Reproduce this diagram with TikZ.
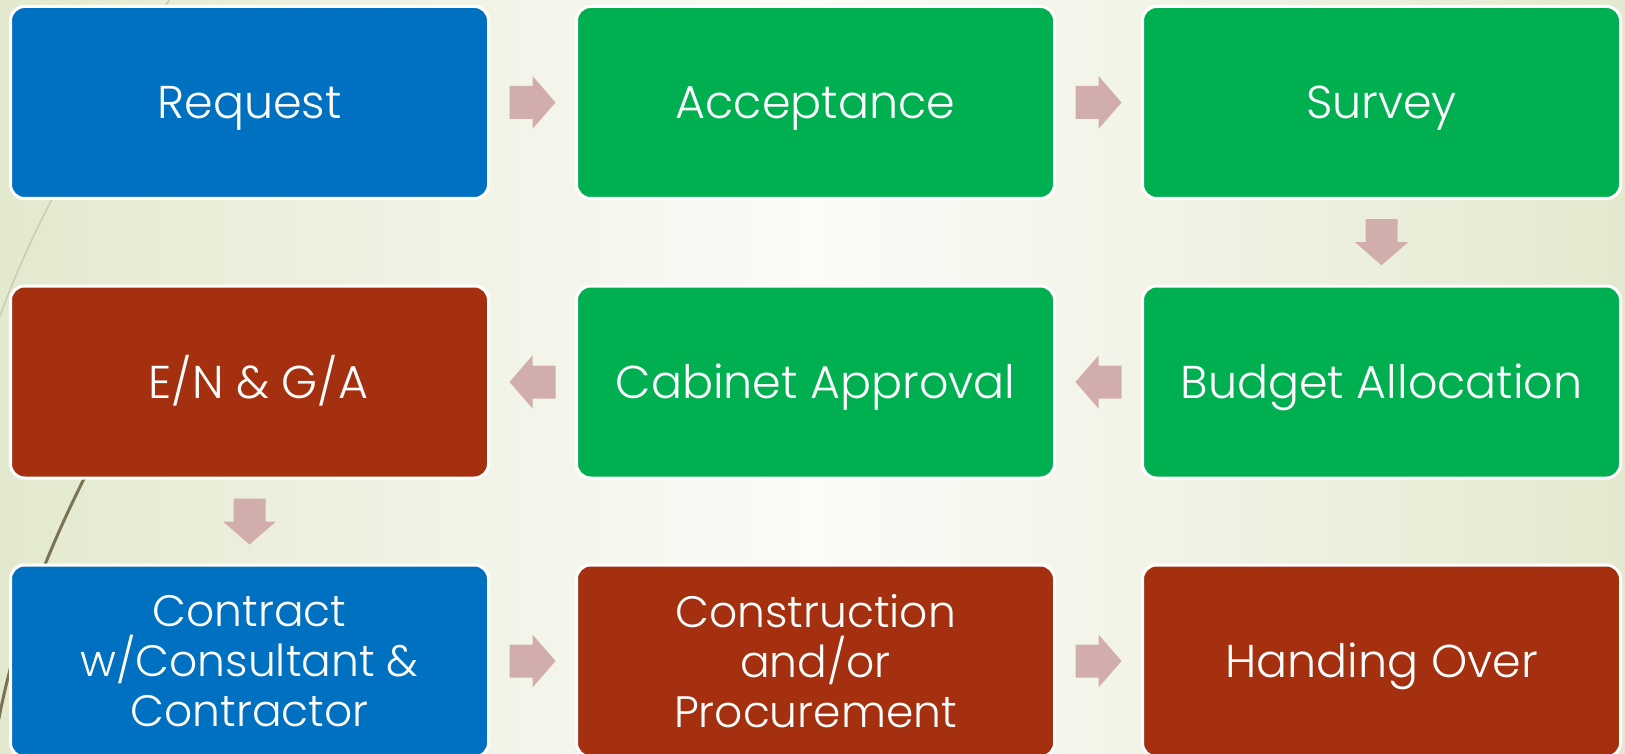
\documentclass[tikz,border=0pt]{standalone}
\usepackage{fontspec}
\IfFontExistsTF{Poppins Light}{\setmainfont{Poppins Light}}{\setmainfont{Poppins}}
\usetikzlibrary{calc}
\definecolor{cblue}{HTML}{0070C0}
\definecolor{cgreen}{HTML}{00B050}
\definecolor{cred}{HTML}{A5300F}
\definecolor{carrow}{HTML}{D1AEAC}
\definecolor{bgedge}{HTML}{E3E9CE}
\definecolor{bgmid}{HTML}{FBFBF8}
\definecolor{swlight}{HTML}{C9CDB3}
\definecolor{swdark}{HTML}{7A7457}
\tikzset{
  stepbox/.style={draw=white, line width=3pt, rounded corners=14pt,
    minimum width=478pt, minimum height=192pt, text=white, align=center,
    font=\fontsize{44}{50}\selectfont, inner sep=0pt},
  oneline/.style={font=\fontsize{46}{52}\selectfont, text height=32pt, text depth=0pt},
  blockarrow/.style={fill=carrow, draw=none},
}
\newcommand\flowR[1]{\fill[blockarrow] (#1) ++(-23,-16.5) -- ++(23,0) -- ++(0,-10) -- ++(23,26.5) -- ++(-23,26.5) -- ++(0,-10) -- ++(-23,0) -- cycle;}
\newcommand\flowL[1]{\fill[blockarrow] (#1) ++(23,-16.5) -- ++(-23,0) -- ++(0,-10) -- ++(-23,26.5) -- ++(23,26.5) -- ++(0,-10) -- ++(23,0) -- cycle;}
\newcommand\flowD[1]{\fill[blockarrow] (#1) ++(-16,-23) -- ++(0,23) -- ++(-10.5,0) -- ++(26.5,23) -- ++(26.5,-23) -- ++(-10.5,0) -- ++(0,-23) -- cycle;}
\begin{document}
\begin{tikzpicture}[x=1pt,y=-1pt]
\useasboundingbox (0,0) rectangle (1625,754);
\shade[left color=bgedge, right color=bgedge, middle color=bgmid] (0,0) rectangle (1625,754);
\draw[swlight, line width=1.5pt] (172,-5) .. controls (110,100) and (40,200) .. (-5,330);
\draw[swdark, line width=3pt] (115,420) .. controls (60,520) and (15,620) .. (-5,740);

\node[stepbox, oneline, fill=cblue]  (req)  at (249.5,102.5) {Request};
\node[stepbox, oneline, fill=cgreen] (acc)  at (815.5,102.5) {Acceptance};
\node[stepbox, oneline, fill=cgreen] (sur)  at (1381.5,102.5) {Survey};
\node[stepbox, oneline, fill=cred]   (ena)  at (249.5,382) {\hspace*{18pt}E/N \& G/A};
\node[stepbox, oneline, fill=cgreen] (cab)  at (815.5,382) {Cabinet Approval};
\node[stepbox, oneline, fill=cgreen] (bud)  at (1381.5,382) {Budget Allocation};
\node[stepbox, fill=cblue]  (con)  at (249.5,661) {Contract\\w/Consultant \&\\Contractor};
\node[stepbox, fill=cred]   (cns)  at (815.5,661) {Construction\\and/or\\Procurement};
\node[stepbox, oneline, fill=cred]   (hand) at (1381.5,661) {Handing Over};

\coordinate (m1) at ($(req.east)!0.5!(acc.west)$);
\coordinate (m2) at ($(acc.east)!0.5!(sur.west)$);
\coordinate (m3) at ($(sur.south)!0.5!(bud.north)$);
\coordinate (m4) at ($(bud.west)!0.5!(cab.east)$);
\coordinate (m5) at ($(cab.west)!0.5!(ena.east)$);
\coordinate (m6) at ($(ena.south)!0.5!(con.north)$);
\coordinate (m7) at ($(con.east)!0.5!(cns.west)$);
\coordinate (m8) at ($(cns.east)!0.5!(hand.west)$);
\flowR{m1}
\flowR{m2}
\flowD{m3}
\flowL{m4}
\flowL{m5}
\flowD{m6}
\flowR{m7}
\flowR{m8}
\end{tikzpicture}
\end{document}
